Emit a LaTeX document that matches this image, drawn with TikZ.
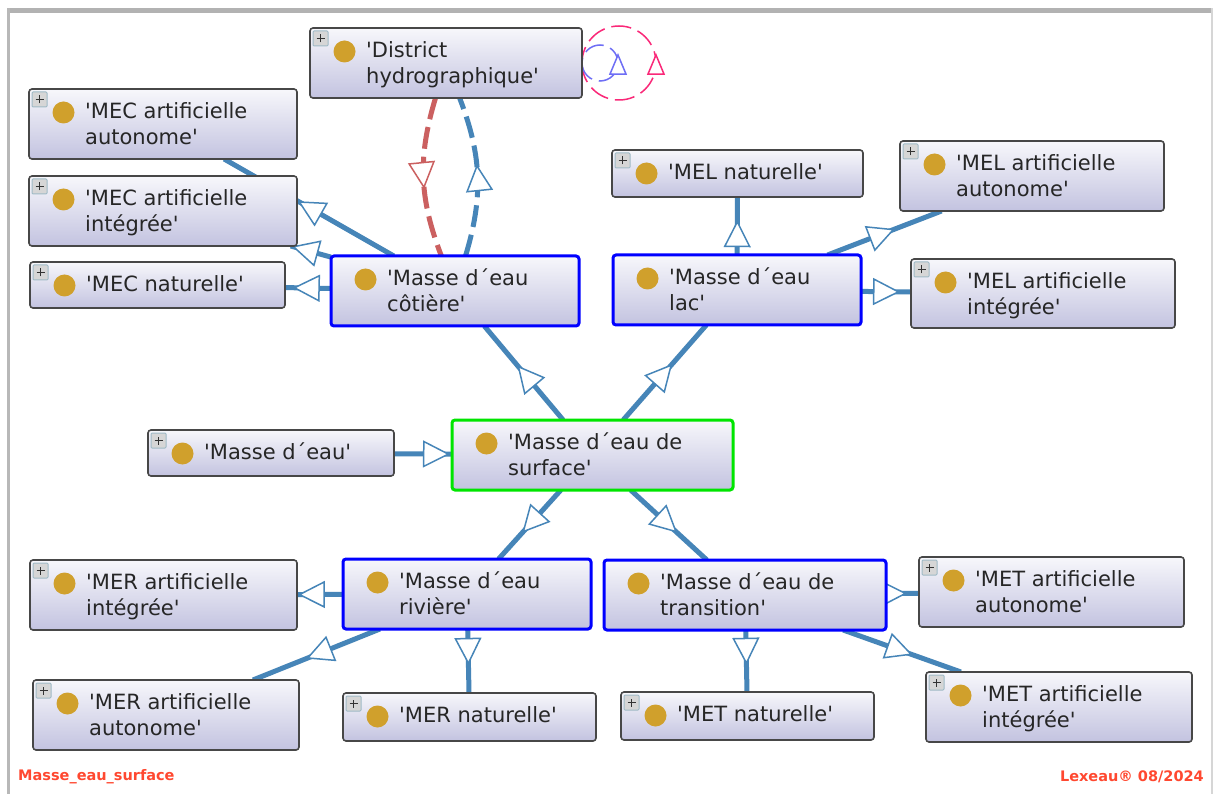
\documentclass[tikz,border=0pt]{standalone}
\usepackage{fontspec}
\newfontfamily\classfont{DejaVu Sans}
\newfontfamily\footfont{DejaVu Sans}
\usetikzlibrary{arrows.meta,backgrounds,decorations.markings}
\definecolor{edgeblue}{RGB}{70,133,184}
\definecolor{edgered}{RGB}{203,96,96}
\definecolor{loopblue}{RGB}{110,110,245}
\definecolor{looppink}{RGB}{250,40,120}
\definecolor{dotgold}{RGB}{208,160,44}
\definecolor{footred}{RGB}{255,72,48}
\definecolor{boxtop}{RGB}{247,247,251}
\definecolor{boxbottom}{RGB}{195,195,224}
\tikzset{
  classbox/.style={rectangle,rounded corners=3pt,draw=black!72,line width=1.6pt,
    top color=boxtop,bottom color=boxbottom,outer sep=0pt,
    inner sep=0pt,anchor=north west,
    path picture={\fill[dotgold] ([shift={(34.5pt,-23.5pt)}]path picture bounding box.north west) circle (11pt);}},
  plain/.style={draw=black!72},
  subclass/.style={draw=blue,line width=3pt},
  root/.style={draw=green!90!black,line width=3pt},
  classtext/.style={anchor=north west,inner sep=0pt,align=left,text=black!85,font=\classfont\fontsize{21}{26}\selectfont},
  plusframe/.style={draw=cyan!30!gray!70,fill=black!16,line width=1pt,rounded corners=1pt,
    minimum size=15pt,inner sep=0pt,outer sep=0pt},
  isaedge/.style={draw=edgeblue,line width=5pt,postaction={decorate},
    decoration={markings,mark=at position #1 with {\arrow[line width=1.5pt]{Triangle[fill=white,length=27pt,width=27pt]}}}},
  redisa/.style={draw=edgered,line width=5pt,dash pattern=on 22pt off 8pt,postaction={decorate},
    decoration={markings,mark=at position #1 with {\arrow[line width=1.5pt]{Triangle[fill=white,length=27pt,width=27pt]}}}},
  dashisa/.style={draw=edgeblue,line width=5pt,dash pattern=on 22pt off 8pt,postaction={decorate},
    decoration={markings,mark=at position #1 with {\arrow[line width=1.5pt]{Triangle[fill=white,length=27pt,width=27pt]}}}},
  selfloop/.style={line width=1.5pt,dash pattern=on 20pt off 7pt,postaction={decorate},
    decoration={markings,mark=at position 0.5 with {\pgftransformxshift{10pt}\arrow[line width=1.5pt]{Triangle[fill=white,length=22pt,width=18pt]}}}},
  foottext/.style={inner sep=0pt,text=footred,font=\footfont\bfseries\fontsize{14.5}{16}\selectfont},
}
% name, style, left, top, width, height, text
\newcommand{\classnode}[7]{
  \node[classbox,#2,minimum width=#5pt,minimum height=#6pt] (#1) at (#3pt,-#4pt) {};
  \node[classtext] (#1txt) at ([shift={(56pt,-13pt)}]#1.north west) {#7};
}
\newcommand{\plusmark}[1]{
  \node[plusframe,anchor=north west] (#1plus) at ([shift={(3pt,-3pt)}]#1.north west) {};
  \draw[black!80,line width=1.2pt] ([xshift=-4pt]#1plus.center) -- ([xshift=4pt]#1plus.center);
  \draw[black!80,line width=1.2pt] ([yshift=-4pt]#1plus.center) -- ([yshift=4pt]#1plus.center);
}
\begin{document}
\begin{tikzpicture}[x=1pt,y=1pt]
\useasboundingbox (0,0) rectangle (1213,-794);
% classes
\classnode{district}{plain}{310}{28}{272}{70}{'District\\hydrographique'}
\classnode{mecauto}{plain}{29}{89}{268}{70}{'MEC artificielle\\autonome'}
\classnode{mecint}{plain}{29}{176}{268}{70}{'MEC artificielle\\intégrée'}
\classnode{mecnat}{plain}{30}{262}{255}{46}{'MEC naturelle'}
\classnode{melnat}{plain}{612}{150}{251}{47}{'MEL naturelle'}
\classnode{melauto}{plain}{900}{141}{264}{70}{'MEL artificielle\\autonome'}
\classnode{melint}{plain}{911}{259}{264}{69}{'MEL artificielle\\intégrée'}
\classnode{masse}{plain}{148}{430}{246}{46}{'Masse d´eau'}
\classnode{merint}{plain}{30}{560}{267}{70}{'MER artificielle\\intégrée'}
\classnode{merauto}{plain}{33}{680}{266}{70}{'MER artificielle\\autonome'}
\classnode{mernat}{plain}{343}{693}{253}{48}{'MER naturelle'}
\classnode{metnat}{plain}{621}{692}{253}{48}{'MET naturelle'}
\classnode{metauto}{plain}{919}{557}{265}{70}{'MET artificielle\\autonome'}
\classnode{metint}{plain}{926}{672}{266}{70}{'MET artificielle\\intégrée'}
\classnode{cotiere}{subclass}{331}{256}{248}{70}{'Masse d´eau\\côtière'}
\classnode{lac}{subclass}{613}{255}{248}{70}{'Masse d´eau\\lac'}
\classnode{riviere}{subclass}{343}{559}{248}{70}{'Masse d´eau\\rivière'}
\classnode{transition}{subclass}{604}{560}{282}{70}{'Masse d´eau de\\transition'}
\classnode{surface}{root}{452}{420}{281}{70}{'Masse d´eau de\\surface'}
\plusmark{district}
\plusmark{mecauto}
\plusmark{mecint}
\plusmark{mecnat}
\plusmark{melnat}
\plusmark{melauto}
\plusmark{melint}
\plusmark{masse}
\plusmark{merint}
\plusmark{merauto}
\plusmark{mernat}
\plusmark{metnat}
\plusmark{metauto}
\plusmark{metint}
% footer
\node[foottext,anchor=west] (footleft) at (18,-777) {Masse\_eau\_surface};
\node[foottext,anchor=east] (footright) at (1204,-777) {Lexeau® 08/2024};
% edges go under the boxes
\begin{pgfonlayer}{background}
\fill[white] (0,0) rectangle (1213,-794);
\fill[black!30] (7,-8) rectangle (1213,-13);
\fill[black!28] (7,-8) rectangle (10,-794);
\fill[black!16] (1211,-8) rectangle (1213,-794);
\draw[isaedge=0.565] (cotiere) -- (mecauto);
\draw[isaedge=0.97] (cotiere) -- (mecint);
\draw[isaedge=0.83] (cotiere) -- (mecnat);
\draw[isaedge=0.58] (surface) -- (cotiere);
\draw[isaedge=0.59] (surface) -- (lac);
\draw[isaedge=0.965] (masse) -- (surface);
\draw[isaedge=0.62] (surface) -- (riviere);
\draw[isaedge=0.61] (surface) -- (transition);
\draw[isaedge=0.6] (lac) -- (melnat);
\draw[isaedge=0.59] (lac) -- (melauto);
\draw[isaedge=0.78] (lac) -- (melint);
\draw[isaedge=0.98] (riviere) -- (merint);
\draw[isaedge=0.58] (riviere) -- (merauto);
\draw[isaedge=0.56] (riviere) -- (mernat);
\draw[isaedge=0.56] (transition) -- (metnat);
\draw[isaedge=0.64] (transition) -- (metauto);
\draw[isaedge=0.59] (transition) -- (metint);
\draw[redisa=0.57] (district) to[bend right=19] (cotiere);
\draw[dashisa=0.575] (cotiere) to[bend right=19] (district);
\draw[selfloop,looppink] (district.east) arc[start angle=180,end angle=540,radius=37];
\draw[selfloop,loopblue] (district.east) arc[start angle=180,end angle=540,radius=18];
\end{pgfonlayer}
\end{tikzpicture}
\end{document}
